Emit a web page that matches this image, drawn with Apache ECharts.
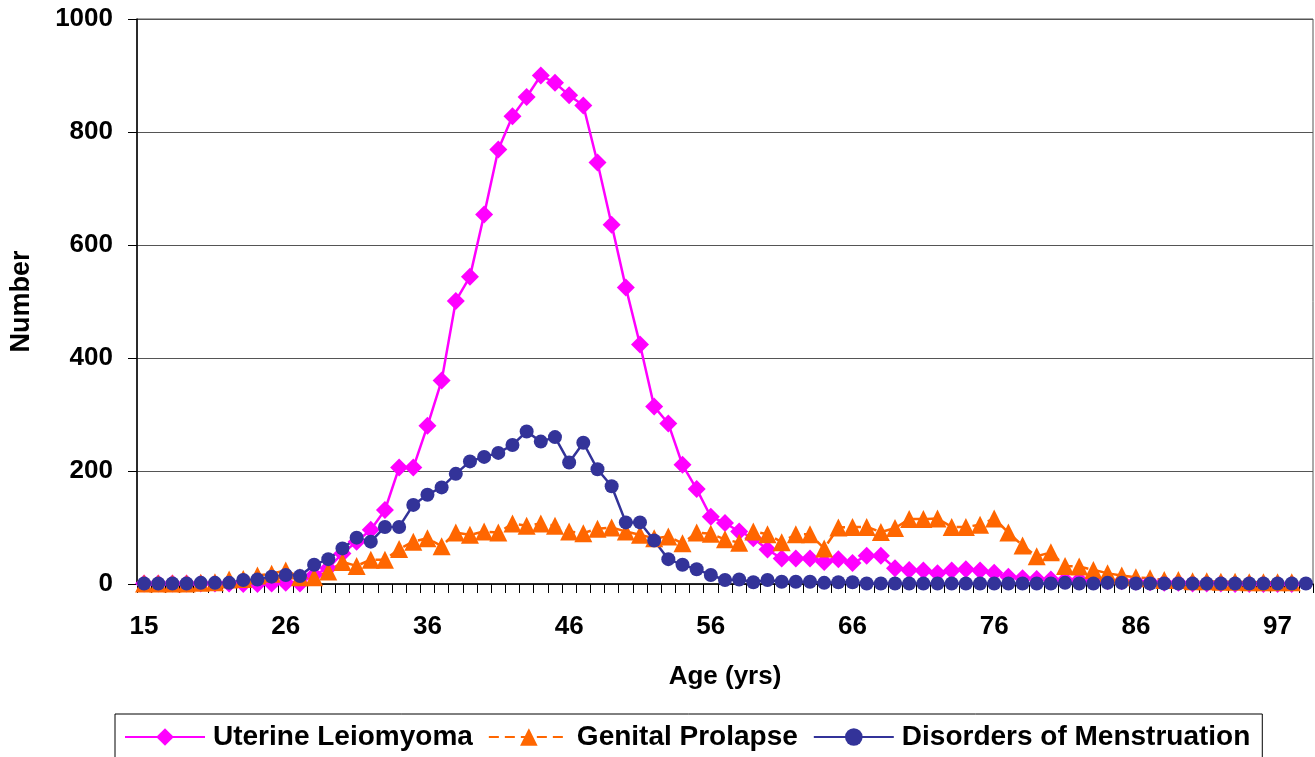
<!DOCTYPE html>
<html>
<head>
<meta charset="utf-8">
<script src="https://cdn.jsdelivr.net/npm/echarts@6/dist/echarts.min.js"></script>
<style>
html,body{margin:0;padding:0;background:#fff;}
#chart{width:1315px;height:757px;}
</style>
</head>
<body>
<div id="chart"></div>
<script>
var ages = [15,17,18,19,20,21,22,23,24,25,26,27,28,29,30,31,32,33,34,35,36,37,38,39,40,41,42,43,44,45,46,47,48,49,50,51,52,53,54,55,56,57,58,59,60,61,62,63,64,65,66,67,68,69,70,71,72,73,74,75,76,77,78,79,80,81,82,83,84,85,86,88,89,90,91,92,93,94,95,96,97,98,99];
var uterineLeiomyoma = [1,1,1,1,1,1,1,0,0,1, 2,1,16,28,54,75,96,131,206,206, 280,360,501,544,654,769,828,862,900,887, 865,847,746,636,525,424,314,284,211,168, 119,108,93,81,61,45,45,45,39,44, 37,50,50,28,25,24,19,24,26,24, 20,13,10,9,8,7,7,6,5,5, 4,3,2,2,1,1,1,0,0,0, 0,0,null];
var genitalProlapse = [1,1,1,1,2,3,8,9,15,18, 24,12,12,22,39,32,43,43,62,75, 81,67,91,87,93,91,107,103,107,103, 93,90,98,100,93,87,81,84,72,91, 89,79,73,93,88,74,88,88,63,100, 101,101,92,99,115,115,116,101,101,105, 116,91,68,49,56,32,31,25,19,15, 12,10,7,7,5,5,4,4,3,3, 3,3,null];
var disordersMenstruation = [1,1,1,1,2,2,2,7,8,13, 16,14,34,44,63,82,75,101,101,140, 158,171,195,217,225,232,246,270,252,260, 215,250,203,173,109,109,77,44,34,26, 16,7,8,3,7,4,4,4,2,3, 3,1,1,1,1,1,1,1,1,1, 1,1,1,1,1,2,1,1,2,2, 1,1,1,1,1,1,1,1,1,1, 1,1,1];
var yTicks = [0,200,400,600,800,1000];

var FONT = '"Liberation Sans", Arial, sans-serif';
var chart = echarts.init(document.getElementById('chart'), null, {renderer:'canvas'});
chart.setOption({
  animation:false,
  backgroundColor:'#fff',
  grid:{left:137,right:2,top:19,bottom:173,show:true,borderColor:'#555',borderWidth:1,backgroundColor:'transparent'},
  legend:{
    left:115, top:714,
    padding:[9,12,12,9],
    borderColor:'#000', borderWidth:1,
    itemWidth:80, itemHeight:22, itemGap:15,
    textStyle:{fontFamily:FONT,fontWeight:'bold',fontSize:28,color:'#000',padding:[0,0,0,3]},
    data:['Uterine Leiomyoma','Genital Prolapse','Disorders of Menstruation']
  },
  xAxis:{
    type:'category', data:ages, boundaryGap:true,
    name:'Age (yrs)', nameLocation:'middle', nameGap:80,
    nameTextStyle:{fontFamily:FONT,fontWeight:'bold',fontSize:26,color:'#000'},
    axisLine:{lineStyle:{color:'#000',width:1.5}},
    axisTick:{show:true,interval:0,alignWithLabel:false,length:9,lineStyle:{color:'#000'}},
    axisLabel:{interval:9,margin:30,fontFamily:FONT,fontWeight:'bold',fontSize:26,color:'#000'},
    splitLine:{show:false}
  },
  yAxis:{
    type:'value', min:0, max:1000, interval:200,
    name:'Number', nameLocation:'middle', nameGap:102,
    nameTextStyle:{fontFamily:FONT,fontWeight:'bold',fontSize:27,color:'#000'},
    axisLine:{show:true,lineStyle:{color:'#000',width:1.5}},
    axisTick:{show:true,length:9,lineStyle:{color:'#000'}},
    axisLabel:{margin:24,fontFamily:FONT,fontWeight:'bold',fontSize:26,color:'#000',
      formatter:function(v){return yTicks.indexOf(v)>=0?String(v):'';}},
    splitLine:{show:true,lineStyle:{color:'#555',width:1}}
  },
  series:[
    {name:'Uterine Leiomyoma',type:'line',data:uterineLeiomyoma,symbol:'diamond',symbolSize:18,showAllSymbol:true,
      itemStyle:{color:'#FF00FF'},lineStyle:{color:'#FF00FF',width:2.5},connectNulls:false},
    {name:'Genital Prolapse',type:'line',data:genitalProlapse,symbol:'triangle',symbolSize:18,showAllSymbol:true,
      itemStyle:{color:'#FF6600'},lineStyle:{color:'#FF6600',width:2.5,type:[10,6]}},
    {name:'Disorders of Menstruation',type:'line',data:disordersMenstruation,symbol:'circle',symbolSize:14,showAllSymbol:true,
      itemStyle:{color:'#333399'},lineStyle:{color:'#333399',width:2.5}}
  ]
});
</script>
</body>
</html>
